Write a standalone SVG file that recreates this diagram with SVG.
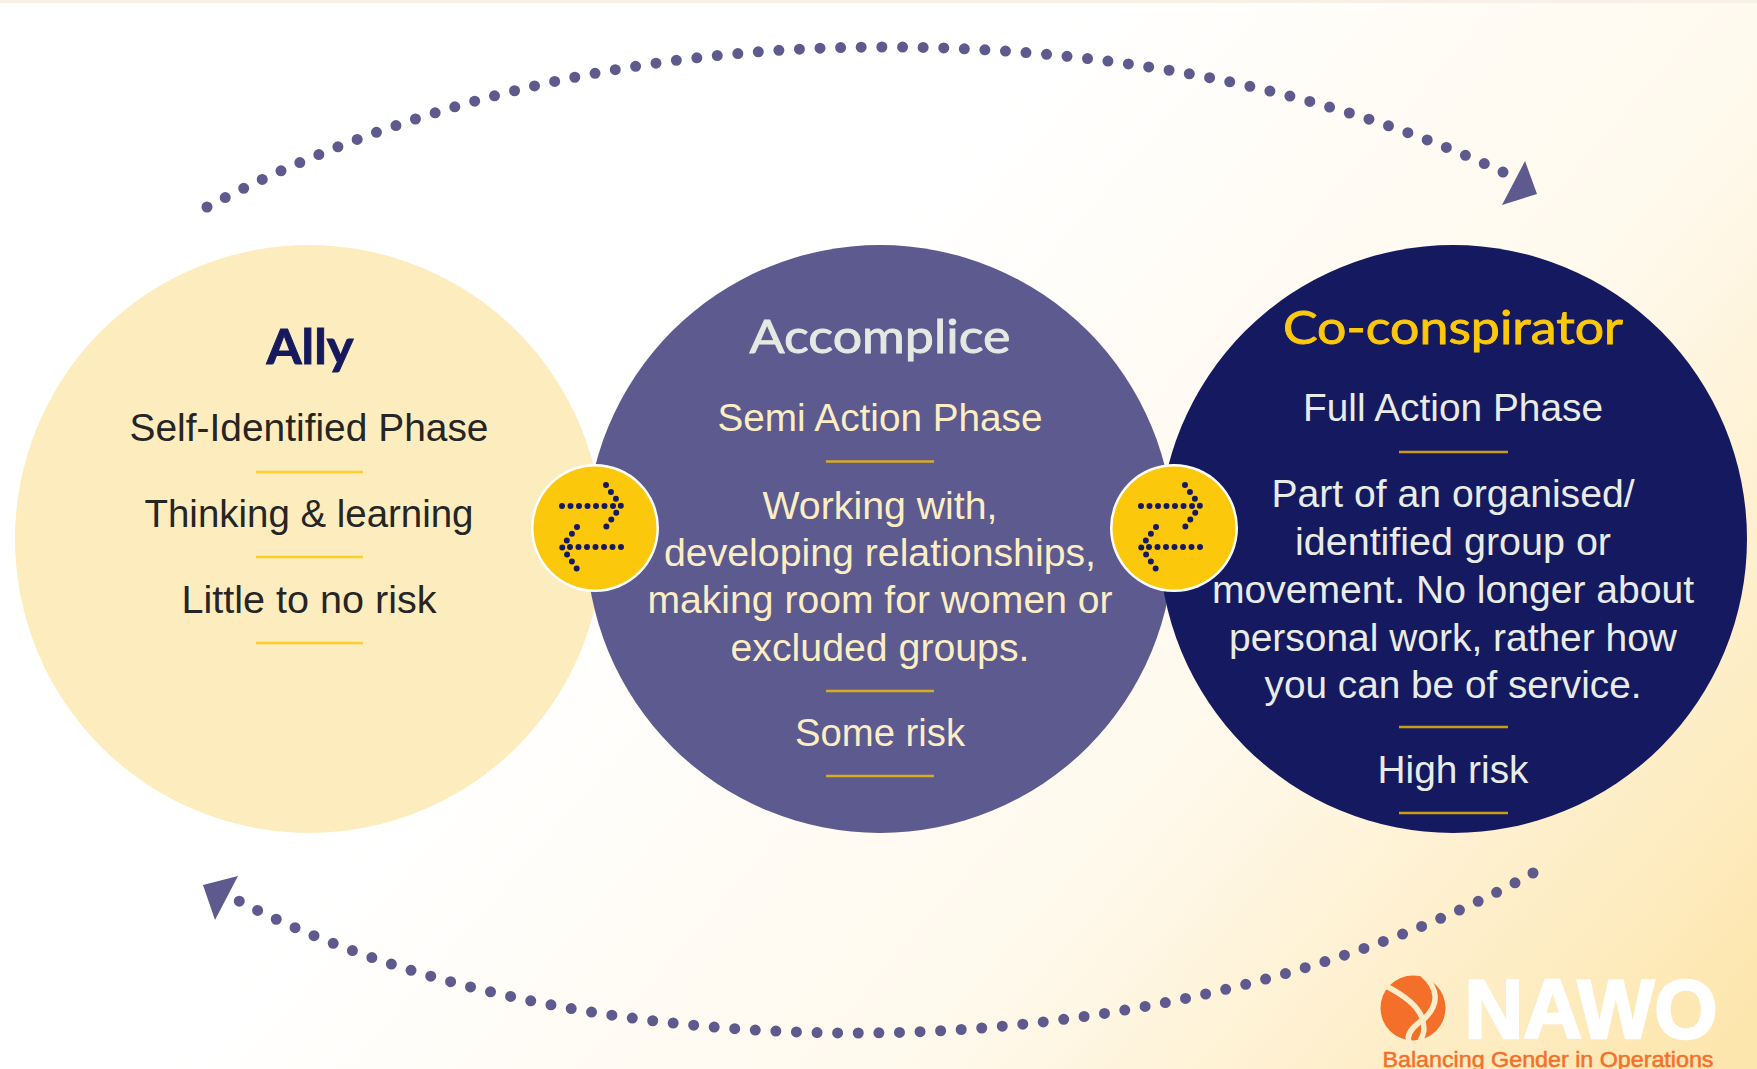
<svg xmlns="http://www.w3.org/2000/svg" width="1757" height="1069" viewBox="0 0 1757 1069">
<style>
text{font-family:"Liberation Sans",Arial,sans-serif;text-anchor:middle}
.b{font-size:38px}
.t{font-size:47px;font-family:Lato,"Liberation Sans",sans-serif;font-weight:400;stroke-width:0.9}
.d{fill:#262524}.c{fill:#fbeec4}.w{fill:#e9ece6}
.r{stroke:#fcd02c;stroke-width:2.4;fill:none}
.r2{stroke:#d9aa22;stroke-width:2.4;fill:none}
.r3{stroke:#c99c14;stroke-width:2.4;fill:none}
.arc{fill:none;stroke:#5e5a8e;stroke-width:11;stroke-linecap:round;stroke-dasharray:0 20.6}
.tri{fill:#5e5a8e}
.dot{fill:none;stroke:#17195e;stroke-width:6;stroke-linecap:round;stroke-dasharray:0 8.5}
</style>
<defs>
<linearGradient id="bg" gradientUnits="userSpaceOnUse" x1="760" y1="380" x2="1640" y2="1140">
<stop offset="0" stop-color="#ffffff"/><stop offset="0.5" stop-color="#fff9ec"/><stop offset="1" stop-color="#fde6ae"/>
</linearGradient>
<g id="sw">
<circle r="64" fill="#fff"/><circle r="61.5" fill="#fbc80c"/>
<path class="dot" d="M-33 -22H26"/>
<path class="dot" d="M11 -43L26 -22L11 -1"/>
<path class="dot" d="M26 19H-33"/>
<path class="dot" d="M-18 -1L-33 19L-18 41"/>
</g>
</defs>
<rect width="1757" height="1069" fill="url(#bg)"/>
<rect width="1757" height="3" fill="#f8efe6"/>
<g id="connectors">
<path class="arc" d="M207 207C390 110 620 47 883 47C1130 47 1340 95 1507 174"/>
<polygon class="tri" points="1525,161 1537,194 1502,205"/>
<path class="arc" d="M1533 873C1350 975 1100 1033 857 1033C620 1033 400 985 237 900"/>
<polygon class="tri" points="203,885 238,876 215,920"/>
</g>
<g id="ally-node">
<circle cx="309" cy="539" r="294" fill="#fdecbd"/>
<text class="t" x="310" y="364" fill="#17195e" style="font-weight:700" textLength="87" lengthAdjust="spacingAndGlyphs" stroke="#17195e">Ally</text>
<text class="b d" x="309" y="441" textLength="359" lengthAdjust="spacingAndGlyphs">Self-Identified Phase</text>
<path class="r" d="M256 472H363"/>
<text class="b d" x="309" y="527" textLength="329" lengthAdjust="spacingAndGlyphs">Thinking &amp; learning</text>
<path class="r" d="M256 557H363"/>
<text class="b d" x="309" y="613" textLength="255" lengthAdjust="spacingAndGlyphs">Little to no risk</text>
<path class="r" d="M256 643H363"/>
</g>
<g id="accomplice-node">
<circle cx="880" cy="539" r="294" fill="#5c5a8f"/>
<text class="t" x="880" y="353" fill="#e6e9e2" stroke="#e6e9e2" textLength="261" lengthAdjust="spacingAndGlyphs">Accomplice</text>
<text class="b c" x="880" y="431" textLength="325" lengthAdjust="spacingAndGlyphs">Semi Action Phase</text>
<path class="r2" d="M826 461.500H934"/>
<text class="b c" x="880" y="519" textLength="235" lengthAdjust="spacingAndGlyphs">Working with,</text>
<text class="b c" x="880" y="566" textLength="432" lengthAdjust="spacingAndGlyphs">developing relationships,</text>
<text class="b c" x="880" y="613" textLength="465" lengthAdjust="spacingAndGlyphs">making room for women or</text>
<text class="b c" x="880" y="661" textLength="299" lengthAdjust="spacingAndGlyphs">excluded groups.</text>
<path class="r2" d="M826 691H934"/>
<text class="b c" x="880" y="746" textLength="170" lengthAdjust="spacingAndGlyphs">Some risk</text>
<path class="r2" d="M826 776H934"/>
</g>
<g id="coconspirator-node">
<circle cx="1453" cy="539" r="294" fill="#151a60"/>
<text class="t" x="1453" y="344" fill="#fbc80c" stroke="#fbc80c" textLength="340" lengthAdjust="spacingAndGlyphs">Co-conspirator</text>
<text class="b w" x="1453" y="421" textLength="300" lengthAdjust="spacingAndGlyphs">Full Action Phase</text>
<path class="r3" d="M1399 452H1508"/>
<text class="b w" x="1453" y="507" textLength="363" lengthAdjust="spacingAndGlyphs">Part of an organised/</text>
<text class="b w" x="1453" y="555" textLength="316" lengthAdjust="spacingAndGlyphs">identified group or</text>
<text class="b w" x="1453" y="603" textLength="482" lengthAdjust="spacingAndGlyphs">movement. No longer about</text>
<text class="b w" x="1453" y="651" textLength="448" lengthAdjust="spacingAndGlyphs">personal work, rather how</text>
<text class="b w" x="1453" y="698" textLength="377" lengthAdjust="spacingAndGlyphs">you can be of service.</text>
<path class="r3" d="M1399 727H1508"/>
<text class="b w" x="1453" y="783" textLength="151" lengthAdjust="spacingAndGlyphs">High risk</text>
<path class="r3" d="M1399 813H1508"/>
</g>
<g id="switch-1"><use href="#sw" x="595" y="528"/></g>
<g id="switch-2"><use href="#sw" x="1174" y="528"/></g>
<g id="logo">
<circle cx="1413" cy="1008" r="32.500" fill="#f4702a"/>
<path d="M1384 985C1402 994 1418 1006 1422 1018C1426 1030 1423 1036 1420 1041M1423 975C1438 988 1440 1004 1424 1019C1412 1027 1406 1034 1409 1042" fill="none" stroke="#fdeec9" stroke-width="5.500"/>
<text x="1591" y="1038" fill="#fff" stroke="#fff" stroke-width="2.500" font-size="83" font-weight="700" textLength="253" lengthAdjust="spacingAndGlyphs">NAWO</text>
<text x="1548" y="1067" fill="#f4702a" stroke="#f4702a" stroke-width="0.500" font-size="22" textLength="331" lengthAdjust="spacingAndGlyphs">Balancing Gender in Operations</text>
</g>
</svg>
